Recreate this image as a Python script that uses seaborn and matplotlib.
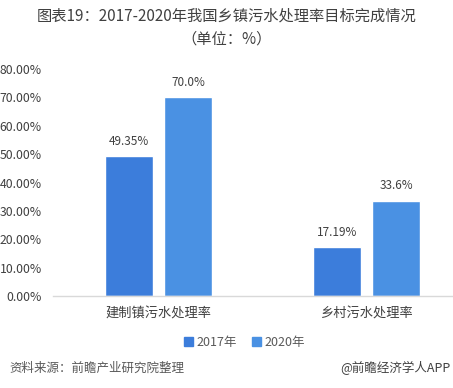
import matplotlib
matplotlib.use("Agg")
import matplotlib.pyplot as plt
import pandas as pd
import seaborn as sns

# ── data ─────────────────────────────────────────────
categories = ["建制镇污水处理率", "乡村污水处理率"]
years = ["2017年", "2020年"]
values_2017 = [49.35, 17.19]
values_2020 = [70.0, 33.6]
value_labels_2017 = ["49.35%", "17.19%"]
value_labels_2020 = ["70.0%", "33.6%"]
yticks = [0, 10, 20, 30, 40, 50, 60, 70, 80]

COLORS = ["#3c7ddb", "#4a91e3"]
TXT = "#404040"

sns.set_theme(style="white")
plt.rcParams["font.family"] = ["Noto Sans CJK SC", "DejaVu Sans"]

df = pd.DataFrame({
    "cat": categories * 2,
    "year": [years[0]] * 2 + [years[1]] * 2,
    "val": values_2017 + values_2020,
})

fig = plt.figure(figsize=(4.53, 3.88), dpi=100)
ax = fig.add_axes([0.117, 0.237, 0.883, 0.585])

sns.barplot(data=df, x="cat", y="val", hue="year", order=categories,
            hue_order=years, palette=COLORS, width=0.572, gap=0.2,
            saturation=1, ax=ax, legend=False)

# value labels
for cont, labs in zip(ax.containers, [value_labels_2017, value_labels_2020]):
    ax.bar_label(cont, labels=labs, padding=6, fontsize=8.5, color=TXT)

ax.set_xlim(-0.507, 1.416)
ax.set_ylim(0, 80)
ax.set_yticks(yticks)
ax.set_yticklabels([f"{t:.2f}%" for t in yticks], fontsize=8.8, color=TXT)
ax.tick_params(axis="y", length=0, pad=8)
ax.tick_params(axis="x", length=0, pad=8)
ax.set_xticks([0, 1])
ax.set_xticklabels(categories, fontsize=9.5, color=TXT)
ax.set_xlabel("")
ax.set_ylabel("")
for s in ["top", "right", "left"]:
    ax.spines[s].set_visible(False)
ax.spines["bottom"].set_color("#d9d9d9")
ax.spines["bottom"].set_linewidth(1)

# title
fig.text(0.5, 0.958, "图表19：2017-2020年我国乡镇污水处理率目标完成情况",
         ha="center", va="center", fontsize=11, color=TXT)
fig.text(0.5, 0.9, "（单位：%）", ha="center", va="center",
         fontsize=11, color=TXT)

# legend
handles = [plt.Rectangle((0, 0), 1, 1, color=c) for c in COLORS]
fig.legend(handles, years, loc="center", bbox_to_anchor=(0.54, 0.118),
           ncol=2, frameon=False, fontsize=9, handlelength=0.7,
           handleheight=0.7, handletextpad=0.3, columnspacing=1.2,
           labelcolor="#595959")

# source / credit
fig.text(0.02, 0.052, "资料来源：前瞻产业研究院整理", ha="left", va="center",
         fontsize=9, color="#595959", style="italic")
fig.text(0.995, 0.052, "@前瞻经济学人APP", ha="right", va="center",
         fontsize=9, color="#404040")

fig.savefig("out.png", dpi=100)
